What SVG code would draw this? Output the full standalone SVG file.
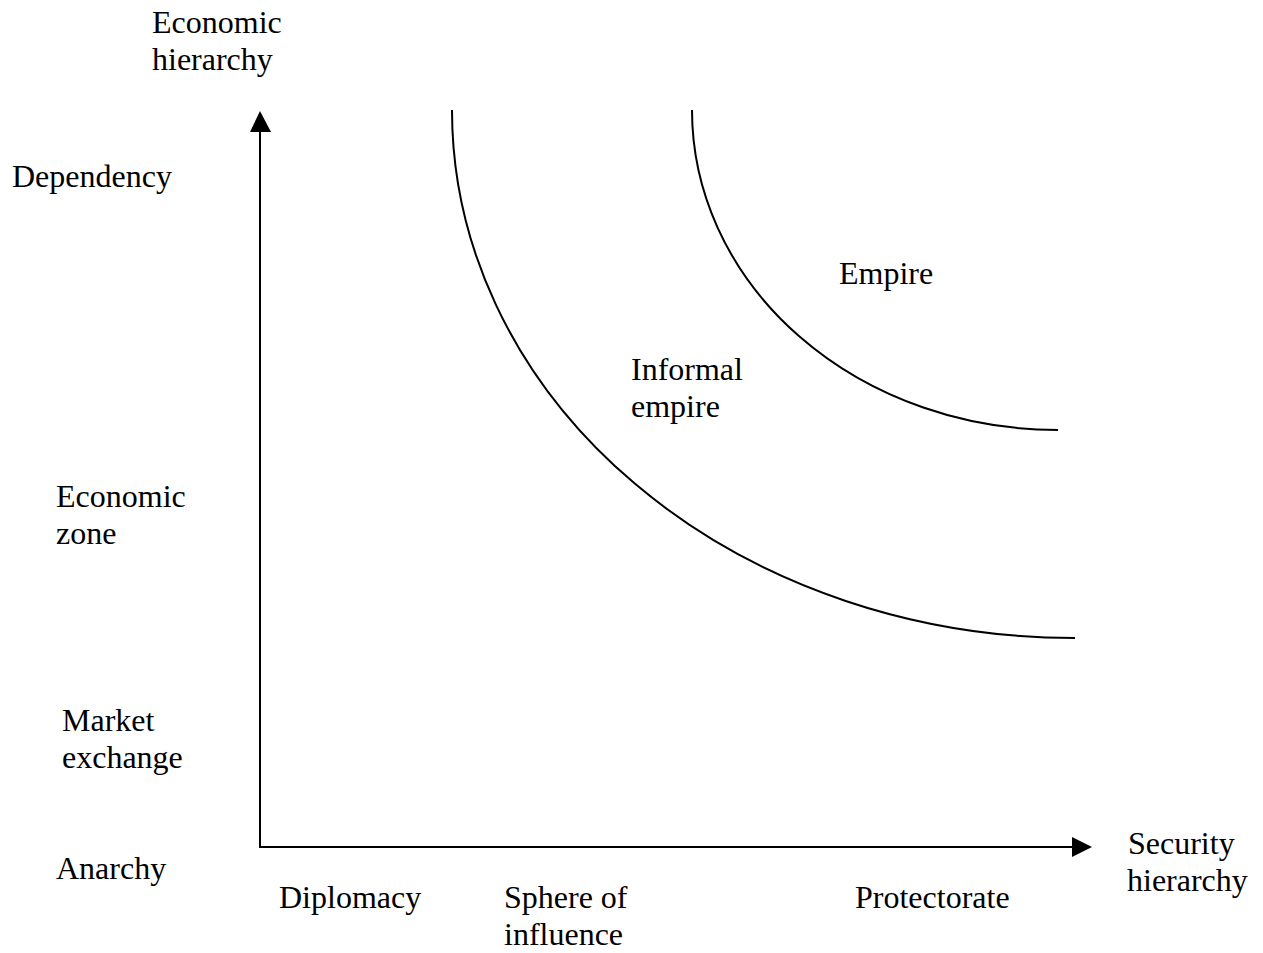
<svg xmlns="http://www.w3.org/2000/svg" width="1263" height="953" viewBox="0 0 1263 953">
<style>
text{font-family:"Liberation Serif","Times New Roman",serif;font-size:32px;fill:#000}
.ln{fill:none;stroke:#000;stroke-width:2}
.ah{fill:#000;stroke:none}
</style>
<rect width="1263" height="953" fill="#fff"/>
<g id="connectors">
<path class="ln" d="M260,131 L260,847 L1073,847"/>
<polygon class="ah" points="260,111 250,132 271,132"/>
<polygon class="ah" points="1092,847 1072,837 1072,857"/>
<path class="ln" d="M452,110 A623,528 0 0 0 1075,638"/>
<path class="ln" d="M692,110 A366,320 0 0 0 1058,430"/>
</g>
<g id="y-axis-label"><text x="152" y="33">Economic</text><text x="152" y="70">hierarchy</text></g>
<g id="dependency"><text x="12" y="187">Dependency</text></g>
<g id="economic-zone"><text x="56" y="507">Economic</text><text x="56" y="544">zone</text></g>
<g id="market-exchange"><text x="62" y="731">Market</text><text x="62" y="768">exchange</text></g>
<g id="anarchy"><text x="56" y="879">Anarchy</text></g>
<g id="diplomacy"><text x="279" y="908">Diplomacy</text></g>
<g id="sphere"><text x="504" y="908">Sphere of</text><text x="504" y="945">influence</text></g>
<g id="protectorate"><text x="855" y="908">Protectorate</text></g>
<g id="x-axis-label"><text x="1128" y="854">Security</text><text x="1127" y="891">hierarchy</text></g>
<g id="informal-empire"><text x="631" y="380">Informal</text><text x="631" y="417">empire</text></g>
<g id="empire"><text x="839" y="284">Empire</text></g>
</svg>
